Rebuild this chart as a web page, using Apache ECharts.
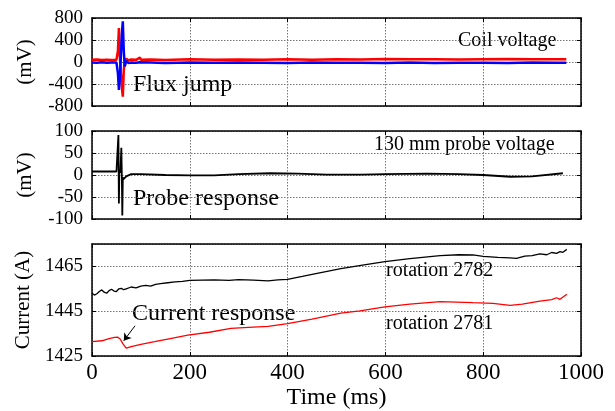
<!DOCTYPE html>
<html><head><meta charset="utf-8">
<script src="https://cdn.jsdelivr.net/npm/echarts@6/dist/echarts.min.js"></script>
<style>html,body{margin:0;padding:0;background:#fff}#c{width:615px;height:411px}</style>
</head><body><div id="c"></div>
<script>
// Panel 1: coil voltage (mV)
const coilTime = [0,10,20,30,40,50,53,55,57,59,61,63,65,67,70,75,80,90,98,100,120,150,200,250,300,350,400,450,500,550,600,650,700,750,800,850,900,950,970];
const coilRed  = [40,45,35,42,38,40,200,618,100,-200,-450,-630,-150,20,60,30,45,40,80,40,45,38,50,40,45,42,48,40,50,45,55,48,52,45,50,55,48,50,50];
const coilBlue = [-10,-15,-5,-12,-8,-10,-200,-509,-300,100,500,740,200,-80,20,-20,-10,-15,-5,-12,-10,-18,-10,-15,-8,-12,-20,-10,-15,-12,-18,-10,-20,-15,-12,-18,-10,-15,-12];
// Panel 2: 130 mm probe voltage (mV)
const probeTime = [0,20,40,50,53,54,55,56,58,60,61,62,63,64,66,70,80,100,150,200,250,300,364,420,480,550,600,685,750,800,855,900,963];
const probeVal  = [8,8,8,8,8,91,-65,10,5,62,0,-92,-5,-10,-8,-3,2,2,0,-1,-1,2,4,3,1,1,2,3,2,0,-4,-3,4];
// Panel 3: current (A)
const rot2782Time = [0,5,10,15,20,25,30,35,40,45,50,55,60,65,70,80,90,100,110,120,130,140,155,170,185,200,225,250,280,300,330,360,380,400,430,468,509,550,599,650,712,750,779,800,830,855,868,885,900,916,930,940,950,957,963,971];
const rot2782Val  = [1453,1452.2,1452.8,1453.8,1454.5,1453.5,1453,1454.2,1454.8,1454,1453.8,1455,1455.2,1454.6,1455,1455.8,1455.4,1456.2,1456.5,1456.2,1457,1457.3,1457.7,1458.1,1458.3,1458.8,1458.9,1459,1458.8,1459.1,1458.9,1458.5,1459,1459.2,1460.5,1462.2,1464,1465.5,1467.1,1468.5,1469.8,1470.2,1470.1,1469.5,1469,1468.8,1468.6,1469.6,1469.8,1470.6,1470.2,1471.2,1470.8,1471.6,1471.3,1472.6];
const rot2781Time = [0,20,35,46,53,58,63,70,80,100,128,160,196,240,284,320,360,400,450,509,548,599,650,712,779,820,855,880,916,940,950,957,971];
const rot2781Val  = [1431.4,1431.8,1432.8,1433.3,1433.4,1432.5,1430.5,1428.5,1429.2,1430.2,1431.4,1432.8,1434.3,1435.6,1437.3,1437.8,1438.2,1439.5,1441.5,1444.1,1445.1,1446.9,1448.2,1449.3,1448.8,1448.5,1447.6,1448.2,1449.5,1450.2,1451,1450.3,1452.6];
// Axis ticks
const timeTicks = {min:0, max:1000, interval:200};
const coilTicks = {min:-800, max:800, interval:400};
const probeTicks = {min:-100, max:100, interval:50};
const currentTicks = {min:1425, max:1475, interval:20};
const arrowFrom = [88, 1438.5], arrowTo = [65, 1431.8];

const pair = (t, v) => t.map((x, i) => [x, v[i]]);
const FONT = 'Liberation Serif';
const plain = v => String(v);
const grids = [
  {left:92, top:18, width:489, height:88},
  {left:92, top:131, width:489, height:88},
  {left:92, top:244, width:489, height:113}
];
const split = {show:true, lineStyle:{color:'#777', type:[1.5,1.5], width:1}};
const xAxes = [], yAxes = [];
const yT = [coilTicks, probeTicks, currentTicks];
const yNames = ['(mV)', '(mV)', 'Current (A)'];
for (let i = 0; i < 3; i++) {
  xAxes.push({type:'value', gridIndex:i, ...timeTicks, position:'bottom',
    axisLine:{show:true, onZero:false, lineStyle:{color:'#000', width:1.5}},
    axisTick:{inside:true, length:4, lineStyle:{color:'#000'}},
    axisLabel:{show:i===2, color:'#000', fontFamily:FONT, fontSize:23, margin:5, formatter:plain},
    splitLine:split,
    name: i===2 ? 'Time (ms)' : '', nameLocation:'middle', nameGap:30,
    nameTextStyle:{color:'#000', fontFamily:FONT, fontSize:24}});
  xAxes.push({type:'value', gridIndex:i, ...timeTicks, position:'top',
    axisLine:{show:true, onZero:false, lineStyle:{color:'#000', width:1.5}},
    axisTick:{inside:true, length:4, lineStyle:{color:'#000'}},
    axisLabel:{show:false}, splitLine:{show:false}});
  yAxes.push({type:'value', gridIndex:i, ...yT[i], position:'left',
    axisLine:{show:true, onZero:false, lineStyle:{color:'#000', width:1.5}},
    axisTick:{inside:true, length:4, lineStyle:{color:'#000'}},
    axisLabel:{color:'#000', fontFamily:FONT, fontSize:19, margin:9, showMaxLabel: i!==2, formatter:plain},
    splitLine:split,
    name:yNames[i], nameLocation:'middle', nameGap:i===2?49:56, nameRotate:90,
    nameTextStyle:{color:'#000', fontFamily:FONT, fontSize:21}});
  yAxes.push({type:'value', gridIndex:i, ...yT[i], position:'right',
    axisLine:{show:true, onZero:false, lineStyle:{color:'#000', width:1.5}},
    axisTick:{inside:true, length:4, lineStyle:{color:'#000'}},
    axisLabel:{show:false}, splitLine:{show:false}});
}
const line = (xi, yi, data, color, w) => ({type:'line', xAxisIndex:xi, yAxisIndex:yi, data, showSymbol:false,
  symbol:'none', lineStyle:{color, width:w}, animation:false, z:3});
const series = [
  line(0, 0, pair(coilTime, coilRed), '#ff0000', 2.5),
  line(0, 0, pair(coilTime, coilBlue), '#0000ff', 2.5),
  line(2, 2, pair(probeTime, probeVal), '#000000', 1.8),
  line(4, 4, pair(rot2782Time, rot2782Val), '#000000', 1.3),
  Object.assign(line(4, 4, pair(rot2781Time, rot2781Val), '#ff0000', 1.3), {
    markLine:{silent:true, symbol:['none','arrow'], symbolSize:7, animation:false,
      lineStyle:{color:'#000', type:'solid', width:1}, label:{show:false},
      data:[[{coord:arrowFrom}, {coord:arrowTo}]]}})
];
const txt = (x, y, s, size) => ({type:'text', left:x, top:y, style:{text:s, fill:'#000', font:`${size}px "${FONT}"`}});
const option = {
  backgroundColor:'#fff', animation:false,
  grid: grids.map(g => ({...g, show:false, containLabel:false})),
  xAxis:xAxes, yAxis:yAxes, series,
  graphic:[
    txt(458, 31, 'Coil voltage', 20),
    txt(133, 73, 'Flux jump', 24),
    txt(374, 135, '130 mm probe voltage', 20),
    txt(133, 187, 'Probe response', 24),
    txt(132, 302, 'Current response', 24),
    txt(386, 261, 'rotation 2782', 20),
    txt(386, 314, 'rotation 2781', 20)
  ]
};
const chart = echarts.init(document.getElementById('c'), null, {renderer:'canvas'});
chart.setOption(option);
</script></body></html>
